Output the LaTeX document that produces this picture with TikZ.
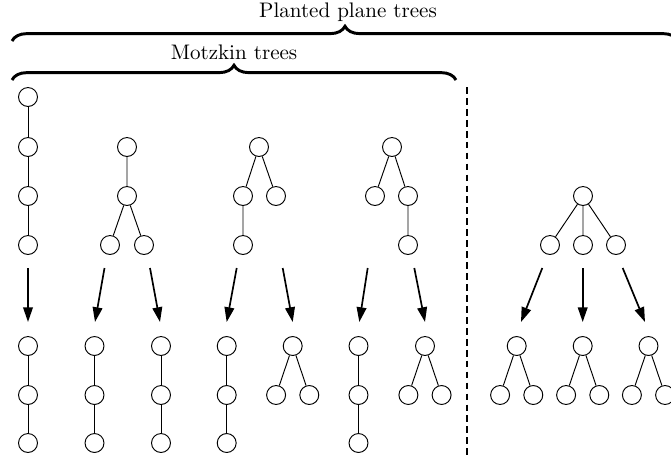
\documentclass[tikz,border=0pt]{standalone}
\usetikzlibrary{arrows.meta,decorations.pathreplacing}
\begin{document}
\begin{tikzpicture}[x=0.0167cm,y=-0.0167cm,
  vtx/.style={circle,draw,line width=0.45pt,inner sep=0pt,minimum size=9pt},
  edge/.style={line width=0.45pt},
  map/.style={line width=0.8pt,-{Triangle[length=7pt,width=4.6pt]}},
  bracedeco/.style={decorate,decoration={brace,amplitude=7pt},line width=1.4pt},
  sep/.style={dashed,line width=0.8pt,dash pattern=on 3.2pt off 2pt}]
\useasboundingbox (0,0) rectangle (671,457);
% braces
\coordinate (pl) at (12,41); \coordinate (pr) at (678,41);
\coordinate (ml) at (12,80); \coordinate (mr) at (456,80);
\draw[bracedeco] (pl) -- (pr);
\draw[bracedeco] (ml) -- (mr);
\node (ptxt) at (348,12) {Planted plane trees};
\node (mtxt) at (234,52) {Motzkin trees};
% separator
\coordinate (st) at (466.7,87); \coordinate (sb) at (466.7,460);
\draw[sep] (st) -- (sb);
% top trees
\node[vtx] (a1) at (28,97) {}; \node[vtx] (a2) at (28,147) {};
\node[vtx] (a3) at (28,196) {}; \node[vtx] (a4) at (28,245) {};
\draw[edge] (a1) -- (a2) (a2) -- (a3) (a3) -- (a4);
\node[vtx] (b1) at (127,147) {}; \node[vtx] (b2) at (127,196) {};
\node[vtx] (b3) at (110,245) {}; \node[vtx] (b4) at (144,245) {};
\draw[edge] (b1) -- (b2) (b2) -- (b3) (b2) -- (b4);
\node[vtx] (c1) at (259,147) {}; \node[vtx] (c2) at (243,196) {};
\node[vtx] (c3) at (276,196) {}; \node[vtx] (c4) at (243,245) {};
\draw[edge] (c1) -- (c2) (c1) -- (c3) (c2) -- (c4);
\node[vtx] (d1) at (392,147) {}; \node[vtx] (d2) at (375,196) {};
\node[vtx] (d3) at (408,196) {}; \node[vtx] (d4) at (408,245) {};
\draw[edge] (d1) -- (d2) (d1) -- (d3) (d3) -- (d4);
\node[vtx] (e1) at (583,196) {}; \node[vtx] (e2) at (550,245) {};
\node[vtx] (e3) at (583,245) {}; \node[vtx] (e4) at (616,245) {};
\draw[edge] (e1) -- (e2) (e1) -- (e3) (e1) -- (e4);
% arrows
\coordinate (s1) at (28,268);    \coordinate (t1) at (28,322);
\coordinate (s2) at (104.5,268); \coordinate (t2) at (95,322);
\coordinate (s3) at (150,268);   \coordinate (t3) at (160,322);
\coordinate (s4) at (236.7,268); \coordinate (t4) at (226.7,322);
\coordinate (s5) at (282.7,268); \coordinate (t5) at (292.7,322);
\coordinate (s6) at (367.7,268); \coordinate (t6) at (359.3,322);
\coordinate (s7) at (414.3,268); \coordinate (t7) at (425,322);
\coordinate (s8) at (542.3,268); \coordinate (t8) at (521,322);
\coordinate (s9) at (582.7,268); \coordinate (t9) at (582.7,322);
\coordinate (s10) at (622.7,268); \coordinate (t10) at (645,322);
\foreach \i in {1,...,10} {\draw[map] (s\i) -- (t\i);}
% bottom chains
\foreach \n/\x in {f/28, g/94.5, h/161, i/226.7, k/358.5} {
  \node[vtx] (\n1) at (\x,346) {};
  \node[vtx] (\n2) at (\x,395) {};
  \node[vtx] (\n3) at (\x,443) {};
  \draw[edge] (\n1) -- (\n2) (\n2) -- (\n3);
}
% bottom cherries
\foreach \n/\x in {j/292.7, l/425, m/516.7, o/582.7, p/648.5} {
  \node[vtx] (\n1) at (\x,346) {};
  \node[vtx] (\n2) at (\x-16.6,395) {};
  \node[vtx] (\n3) at (\x+16.6,395) {};
  \draw[edge] (\n1) -- (\n2) (\n1) -- (\n3);
}
\end{tikzpicture}
\end{document}
